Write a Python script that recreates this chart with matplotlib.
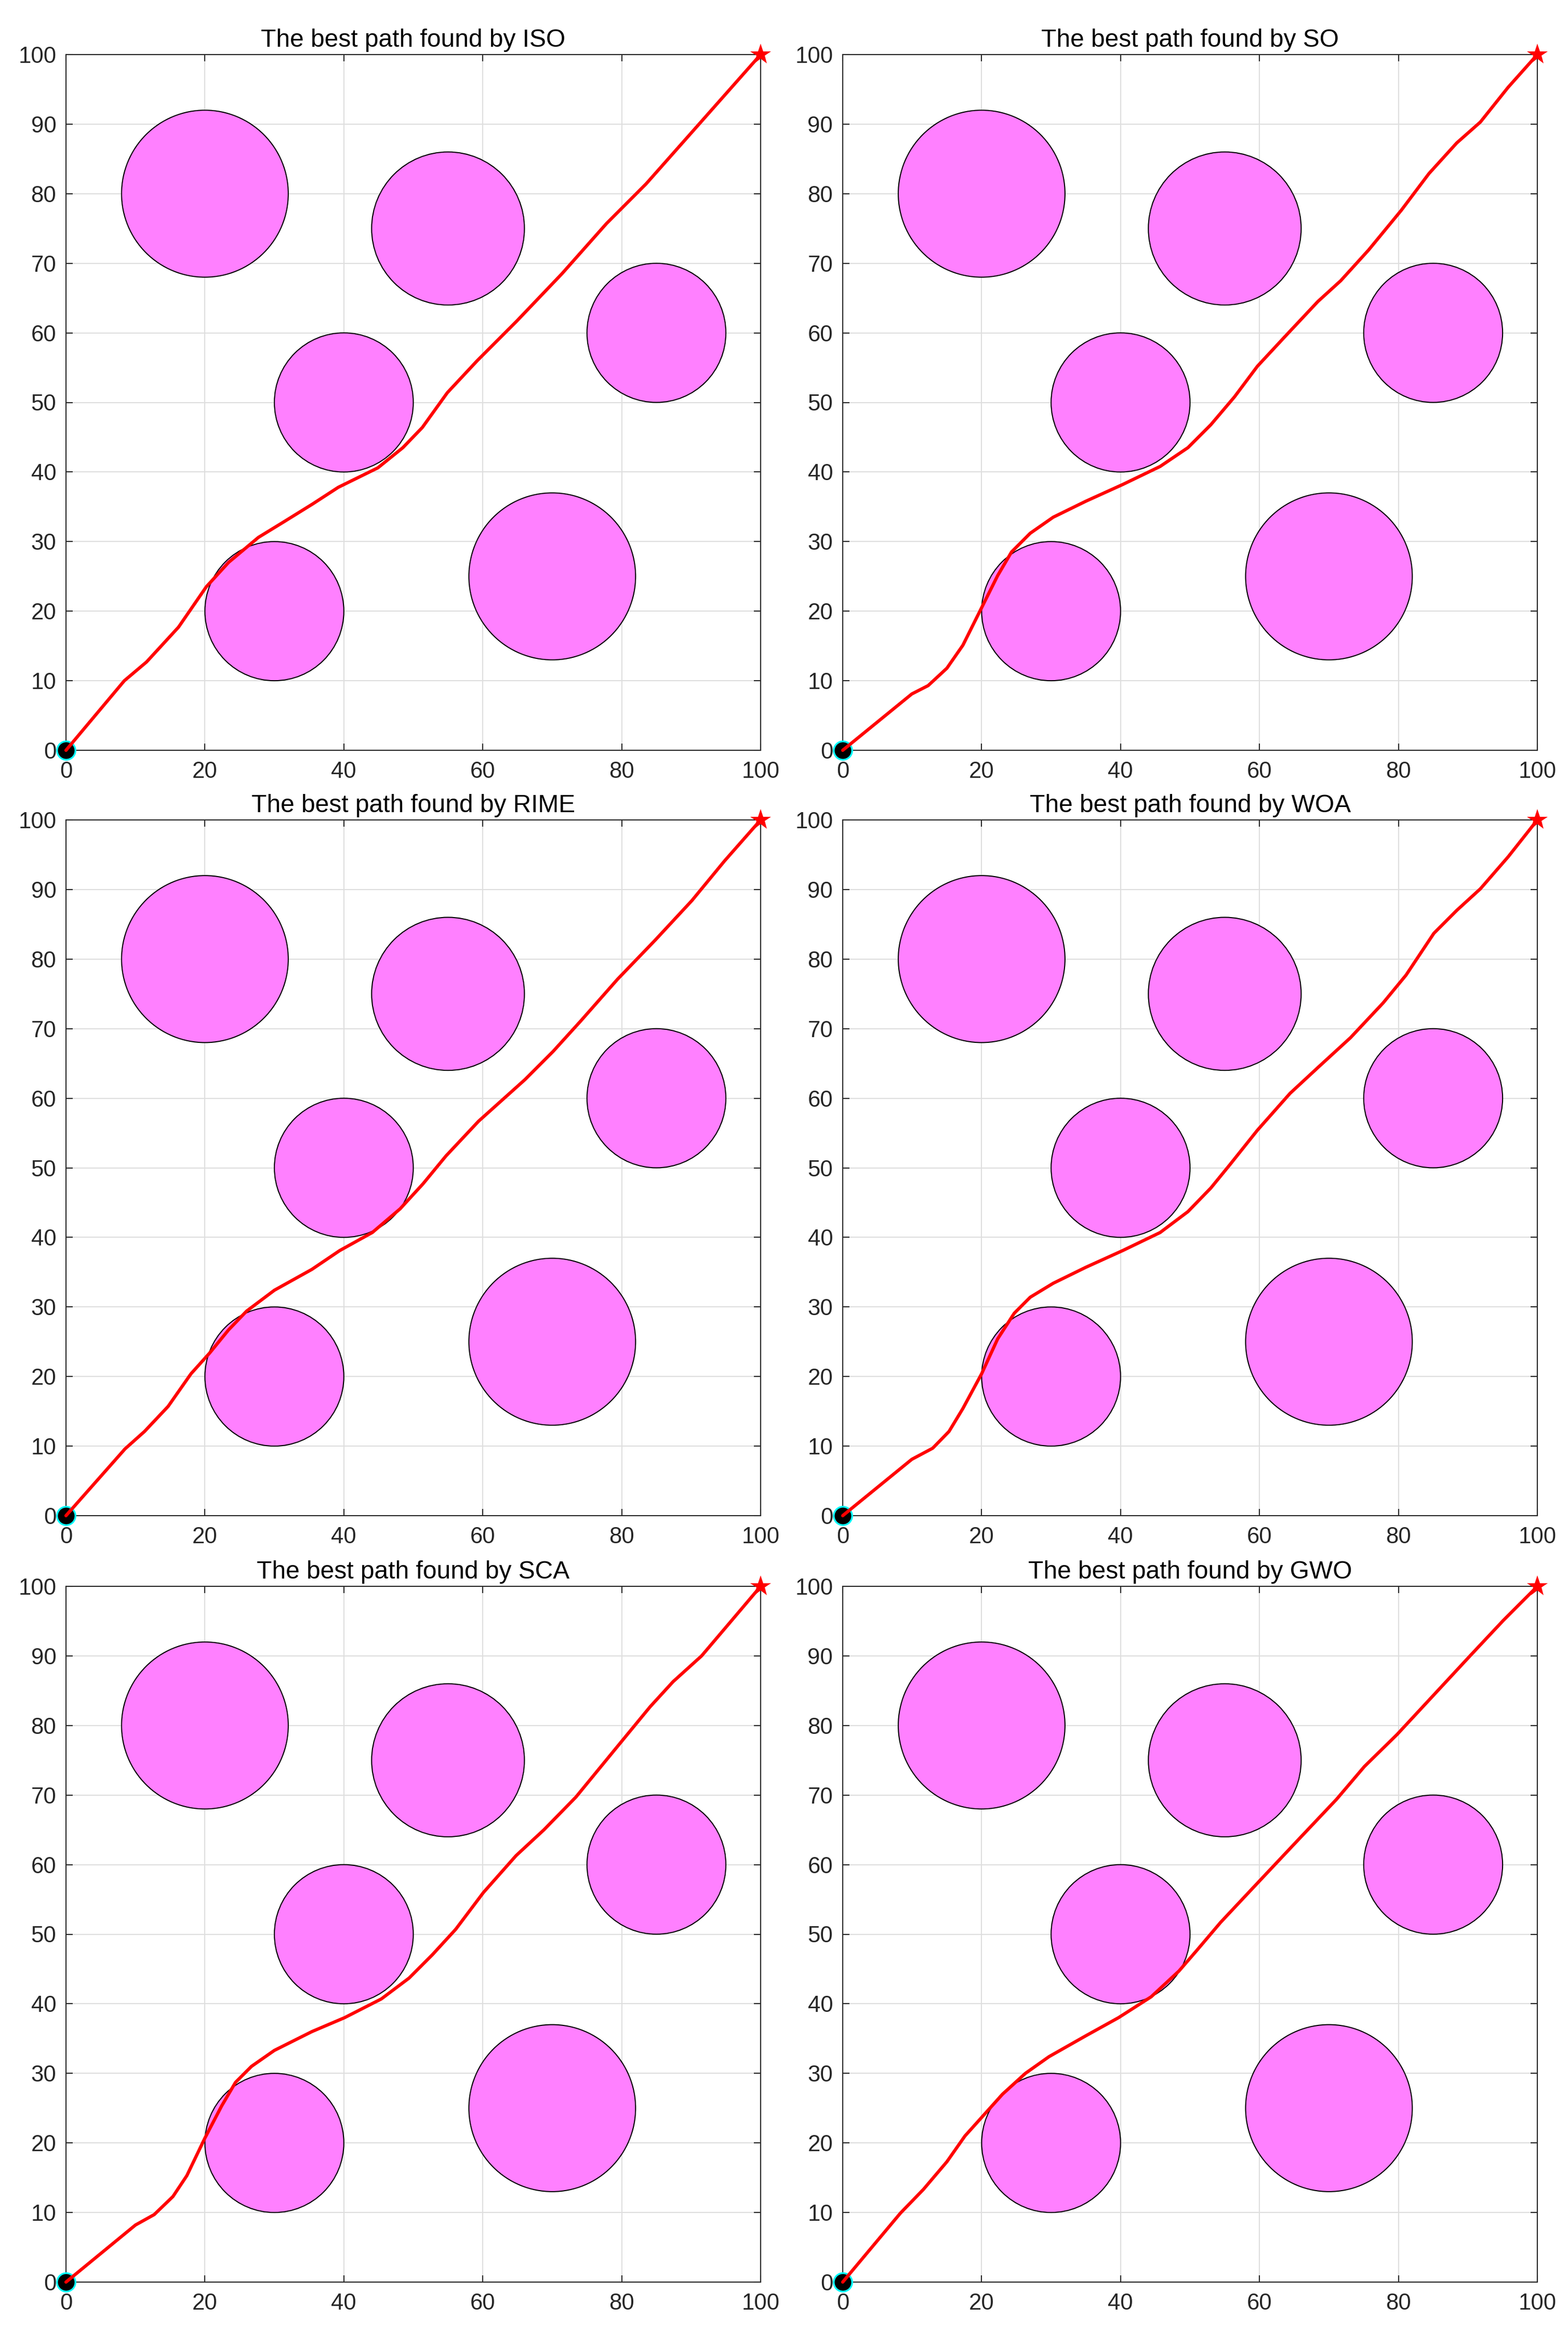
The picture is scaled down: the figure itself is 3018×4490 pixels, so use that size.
import numpy as np
import matplotlib
matplotlib.use('Agg')
import matplotlib.pyplot as plt
from matplotlib.patches import Circle

# ==========================================
# 障碍物 (圆心 + 半径)
# ==========================================
obs_x = [20, 55, 40, 85, 30, 70]
obs_y = [80, 75, 50, 60, 20, 25]
obs_r = [12, 11, 10, 10, 10, 12]

start_pt = (0, 0)
goal_pt = (100, 100)

# ==========================================
# 各算法的最优路径
# ==========================================
algo_names = ['ISO', 'SO', 'RIME', 'WOA', 'SCA', 'GWO']

iso_x = [0, 8.4, 11.6, 16.2, 20.2, 23.4, 27.7, 31.3, 35.5, 39.2, 44.9, 48.5, 51.3,
         54.9, 59.2, 64.9, 71.4, 77.8, 83.5, 91.4, 100]
iso_y = [0, 10.0, 12.7, 17.7, 23.5, 27.0, 30.6, 32.8, 35.4, 37.8, 40.6, 43.5, 46.4,
         51.4, 56.0, 61.7, 68.5, 75.7, 81.4, 90.3, 100]

so_x = [0, 9.95, 12.3, 15.0, 17.3, 20.0, 22.3, 24.3, 27.0, 30.3, 35.0, 40.3, 45.7,
        49.7, 53.0, 56.4, 59.7, 63.7, 68.4, 71.7, 75.7, 80.4, 84.4, 88.4, 91.8, 95.8, 100]
so_y = [0, 8.1, 9.3, 11.8, 15.1, 20.5, 25.1, 28.5, 31.2, 33.5, 35.8, 38.2, 40.8,
        43.5, 46.8, 50.8, 55.2, 59.5, 64.5, 67.5, 71.9, 77.6, 82.9, 87.3, 90.3, 95.3, 100]

rime_x = [0, 8.5, 11.3, 14.7, 18.0, 20.7, 23.4, 26.0, 30.0, 35.4, 39.4, 44.1, 48.1,
          51.4, 54.7, 59.4, 66.1, 70.1, 74.1, 79.4, 84.8, 90.1, 94.8, 100]
rime_y = [0, 9.6, 12.1, 15.7, 20.4, 23.4, 26.7, 29.4, 32.4, 35.4, 38.1, 40.7, 44.1,
          47.7, 51.7, 56.7, 62.7, 66.7, 71.1, 77.1, 82.7, 88.4, 94.1, 100]

woa_x = [0, 9.95, 12.96, 15.3, 17.3, 20.0, 22.3, 24.7, 27.0, 30.3, 35.0, 40.3, 45.7,
         49.7, 53.0, 55.7, 59.7, 64.4, 68.4, 73.1, 77.8, 81.1, 85.1, 88.4, 91.8, 95.8, 100]
woa_y = [0, 8.1, 9.7, 12.1, 15.4, 20.4, 25.4, 29.1, 31.4, 33.4, 35.7, 38.1, 40.7,
         43.7, 47.1, 50.4, 55.4, 60.7, 64.4, 68.7, 73.7, 77.7, 83.7, 87.0, 90.1, 94.7, 100]

sca_x = [0, 10.0, 12.7, 15.4, 17.4, 20.0, 22.4, 24.4, 26.7, 30.0, 35.4, 40.1, 45.4,
         49.4, 52.7, 56.1, 60.1, 64.8, 68.8, 73.4, 79.4, 84.1, 87.4, 91.5, 95.5, 100]
sca_y = [0, 8.2, 9.7, 12.3, 15.3, 20.7, 25.3, 28.7, 31.0, 33.3, 36.0, 38.0, 40.7,
         43.7, 47.0, 50.7, 56.0, 61.3, 65.0, 69.7, 77.0, 82.7, 86.3, 90.0, 94.7, 100]

gwo_x = [0, 8.3, 11.6, 15.0, 17.6, 20.3, 23.0, 26.3, 29.7, 35.0, 39.7, 44.4, 48.4,
         51.0, 54.4, 59.1, 65.7, 71.1, 75.1, 79.8, 85.1, 90.4, 95.1, 100]
gwo_y = [0, 9.9, 13.3, 17.3, 21.0, 24.0, 27.0, 30.0, 32.4, 35.4, 38.0, 41.0, 44.7,
         47.7, 51.7, 56.7, 63.7, 69.4, 74.1, 78.7, 84.4, 90.1, 95.1, 100]

paths = {
    'ISO': (iso_x, iso_y),
    'SO': (so_x, so_y),
    'RIME': (rime_x, rime_y),
    'WOA': (woa_x, woa_y),
    'SCA': (sca_x, sca_y),
    'GWO': (gwo_x, gwo_y),
}

x_ticks = [0, 20, 40, 60, 80, 100]
y_ticks = [0, 10, 20, 30, 40, 50, 60, 70, 80, 90, 100]

# ==========================================
# 绘图设置 (仿 MATLAB 风格)
# ==========================================
plt.rcParams['font.family'] = ['Liberation Sans', 'DejaVu Sans']
plt.rcParams['axes.unicode_minus'] = False

W, H = 3018, 4490
fig = plt.figure(figsize=(W / 300, H / 300), dpi=300)

col_left = [127 / W, 1622 / W]
ax_w = 1337 / W
ax_h = 1339 / H
row_bottom = [(H - 1444) / H, (H - 2917) / H, (H - 4392) / H]

dark = '#262626'

for i, name in enumerate(algo_names):
    r, c = divmod(i, 2)
    ax = fig.add_axes([col_left[c], row_bottom[r], ax_w, ax_h])

    # 障碍物
    for cx, cy, rr in zip(obs_x, obs_y, obs_r):
        ax.add_patch(Circle((cx, cy), rr, facecolor='#ff80ff', edgecolor='black',
                            linewidth=0.5, zorder=2))

    # 起点
    ax.plot(start_pt[0], start_pt[1], 'o', markersize=8.5, markerfacecolor='black',
            markeredgecolor='cyan', markeredgewidth=0.8, clip_on=False, zorder=3)

    # 路径
    px, py = paths[name]
    ax.plot(px, py, color='red', linewidth=1.5, zorder=4, clip_on=False,
            solid_joinstyle='round', solid_capstyle='round')

    # 终点
    ax.plot(goal_pt[0], goal_pt[1], '*', markersize=10, color='red',
            markeredgewidth=0, clip_on=False, zorder=5)

    ax.set_xlim(0, 100)
    ax.set_ylim(0, 100)
    ax.set_xticks(x_ticks)
    ax.set_yticks(y_ticks)
    ax.set_axisbelow(True)
    ax.grid(True, color='#dedede', linewidth=0.5)

    ax.tick_params(direction='in', top=True, right=True, length=3.2, width=0.5,
                   colors=dark, labelsize=10.5, labelcolor=dark)
    ax.tick_params(axis='y', pad=4.5)
    ax.tick_params(axis='x', pad=5)
    for sp in ax.spines.values():
        sp.set_color(dark)
        sp.set_linewidth(0.5)

    ax.set_title(f'The best path found by {name}', fontsize=11.5, color='black', pad=3.5)

plt.savefig('out.png', dpi=300)
plt.close(fig)
